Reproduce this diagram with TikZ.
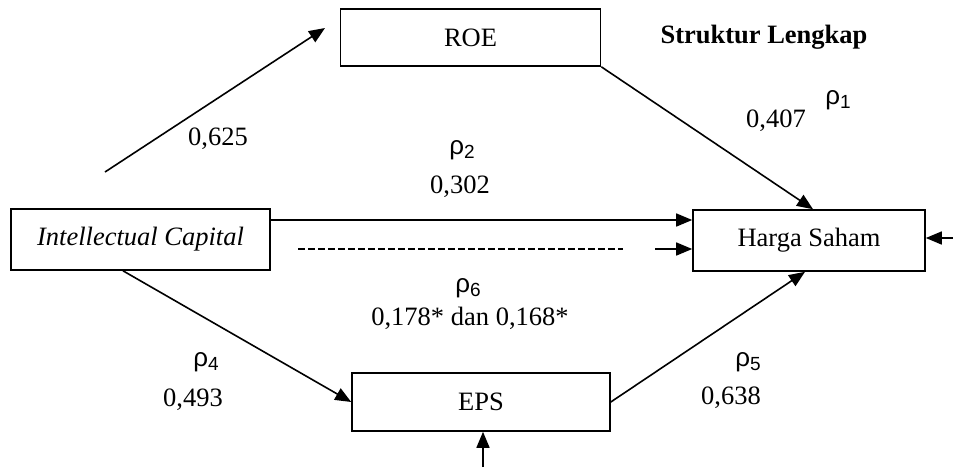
\documentclass[tikz,border=0pt]{standalone}
\usepackage{fontspec}
\setmainfont{Liberation Serif}
\newfontfamily\rhofont{Liberation Sans}
\usetikzlibrary{arrows.meta}
\newcommand{\rh}[1]{{\rhofont\fontsize{26}{30}\selectfont\char"03C1\raisebox{-4pt}{\fontsize{19}{22}\selectfont #1}}}
\begin{document}
\begin{tikzpicture}[x=1pt,y=-1pt,
  box/.style={draw,line width=1.6pt,rectangle,inner sep=0pt},
  arr/.style={line width=1.6pt,-{Triangle[length=16pt,width=13pt]}},
  lbl/.style={inner sep=0pt,font=\fontsize{26.5}{30}\selectfont}]
\useasboundingbox (0,0) rectangle (953,467);
\node[box,minimum width=260pt,minimum height=57pt,lbl] (roe) at (470.5,37.5) {ROE};
\node[box,minimum width=259pt,minimum height=61pt,lbl] (ic) at (140.5,239.5) {\itshape Intellectual Capital};
\node[box,minimum width=232pt,minimum height=61pt,lbl] (h) at (809,240.5) {Harga Saham};
\node[box,minimum width=258pt,minimum height=58pt,lbl] (eps) at (481,402) {EPS};
\node[lbl,font=\fontsize{26.5}{30}\selectfont\bfseries] (title) at (764,37) {Struktur Lengkap};
% labels
\node[lbl] (l625) at (218,139) {0,625};
\node[lbl] (r2) at (462,150) {\rh{2}};
\node[lbl] (l302) at (460,187) {0,302};
\node[lbl] (l407) at (776,121) {0,407};
\node[lbl] (r1) at (838,100) {\rh{1}};
\node[lbl] (r6) at (468,288) {\rh{6}};
\node[lbl] (l178) at (470,318) {0,178* dan 0,168*};
\node[lbl] (r4) at (206,362) {\rh{4}};
\node[lbl] (l493) at (193,400) {0,493};
\node[lbl] (r5) at (748,362) {\rh{5}};
\node[lbl] (l638) at (731,398) {0,638};
% free coordinates
\coordinate (a1) at (105,172);
\coordinate (a2) at (325,28);
\coordinate (d1) at (298,249);
\coordinate (d2) at (623,249);
\coordinate (s1) at (655,249);
\coordinate (e1) at (953,238);
\coordinate (b1) at (483,467);
\coordinate (p) at ([yshift=19.5pt]ic.east);
\coordinate (q) at ([xshift=-17.5pt]ic.south);
% connectors
\draw[arr] (a1) -- (a2);
\draw[arr] (roe.south east) -- ([xshift=4pt]h.north);
\draw[arr] (p) -- (p -| h.west);
\draw[line width=1.2pt,dash pattern=on 7pt off 3pt] (d1) -- (d2);
\draw[arr] (s1) -- (s1 -| h.west);
\draw[arr] (e1) -- (e1 -| h.east);
\draw[arr] (q) -- (eps.west);
\draw[arr] (eps.east) -- ([xshift=-4pt]h.south);
\draw[arr] (b1) -- (b1 |- eps.south);
\end{tikzpicture}
\end{document}
